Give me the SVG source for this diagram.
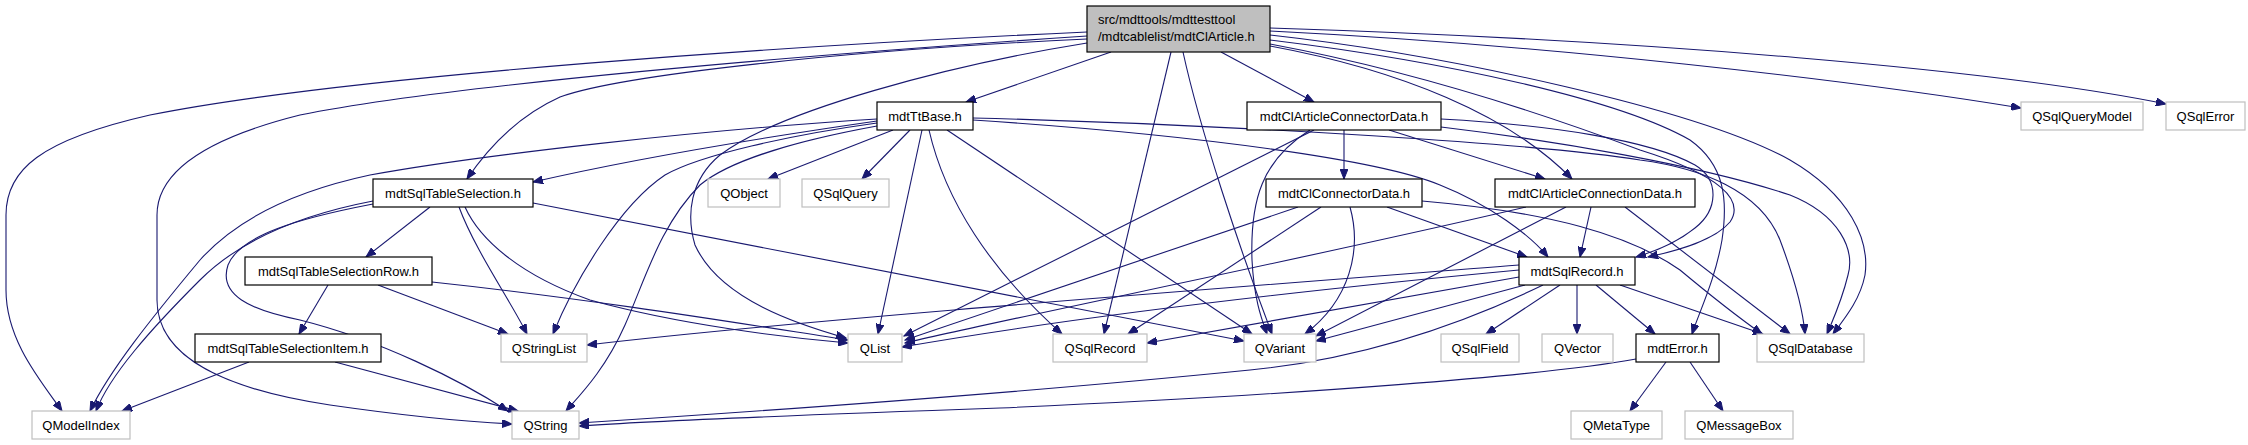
<svg xmlns="http://www.w3.org/2000/svg" width="2248" height="445" viewBox="0 0 2248 445">
<style>
.n rect{fill:#fff;stroke:#000;stroke-width:1.2}
.g rect{fill:#fff;stroke:#bfbfbf;stroke-width:1.2}
.r rect{fill:#bfbfbf;stroke:#000;stroke-width:1.2}
text{font-family:"Liberation Sans",Arial,sans-serif;font-size:13px;fill:#000}
.c{text-anchor:middle}
#edges path{fill:none;stroke:#191970;stroke-width:1.1;marker-end:url(#ah)}
</style>
<defs>
<marker id="ah" markerUnits="userSpaceOnUse" markerWidth="11" markerHeight="8" refX="10" refY="4" orient="auto">
<path d="M0,0 L10,4 L0,8 z" fill="#191970" stroke="#191970" stroke-width="1"/>
</marker>
</defs>
<rect width="2248" height="445" fill="#fff"/>
<g id="edges">
<path d="M1087,32 C800,45 350,75 150,115 C40,140 6,170 6,215 L6,290 C6,340 40,380 62,411"/>
<path d="M1087,36 C800,55 450,85 300,115 C200,140 157,175 157,215 L157,300 C157,360 230,390 330,405 C420,418 470,422 512,424"/>
<path d="M1087,39 C850,50 620,75 560,97 C520,115 490,145 467,179"/>
<path d="M1111,52 L966,102"/>
<path d="M1087,43 C950,65 780,110 720,155 C690,180 686,215 695,245 C720,300 800,325 846,338"/>
<path d="M1171,52 L1104,334"/>
<path d="M1183,52 C1200,130 1240,250 1272,334"/>
<path d="M1221,52 L1314,102"/>
<path d="M1270,46 C1400,70 1510,115 1572,179"/>
<path d="M1270,31 C1550,45 1850,80 2021,108"/>
<path d="M1270,28 C1650,40 2000,70 2166,104"/>
<path d="M1270,35 C1450,55 1700,110 1790,160 C1850,195 1870,240 1865,275 C1860,300 1845,318 1833,334"/>
<path d="M1270,40 C1450,62 1620,100 1690,140 C1725,165 1728,200 1722,240 C1715,280 1700,310 1692,334"/>
<path d="M1270,44 C1420,72 1560,120 1640,150 C1720,175 1745,200 1730,222 C1715,240 1680,250 1648,257"/>
<path d="M893,130 L768,179"/>
<path d="M910,130 L862,179"/>
<path d="M922,130 L878,334"/>
<path d="M929,130 C945,200 990,270 1062,334"/>
<path d="M947,130 L1252,334"/>
<path d="M877,126 C800,140 730,160 700,185 C660,225 645,280 625,325 C605,370 580,395 566,411"/>
<path d="M877,123 C790,135 700,155 665,175 C620,205 575,280 553,334"/>
<path d="M877,119 C700,130 480,155 370,175 C300,190 240,215 200,260 C150,320 110,370 90,411"/>
<path d="M877,121 C780,135 650,155 533,182"/>
<path d="M973,120 C1200,135 1380,160 1440,185 C1490,205 1530,235 1548,257"/>
<path d="M973,118 C1250,125 1550,145 1640,160 C1700,168 1760,190 1780,240 C1795,280 1803,310 1805,334"/>
<path d="M1344,130 L1344,179"/>
<path d="M1389,130 L1545,179"/>
<path d="M1314,130 L904,336"/>
<path d="M1310,130 C1262,160 1250,200 1252,260 C1254,300 1262,320 1267,334"/>
<path d="M1441,119 C1550,125 1650,140 1695,165 C1720,180 1718,210 1695,228 C1680,240 1660,250 1636,257"/>
<path d="M1441,127 C1550,140 1700,165 1790,195 C1840,215 1855,250 1848,275 C1842,300 1835,315 1827,334"/>
<path d="M1387,207 L1527,257"/>
<path d="M1298,207 L905,340"/>
<path d="M1321,207 L1128,334"/>
<path d="M1350,207 C1362,250 1350,300 1305,334"/>
<path d="M1422,201 C1550,212 1630,235 1680,270 C1710,295 1735,315 1762,334"/>
<path d="M1591,207 L1580,257"/>
<path d="M1526,207 C1300,260 1000,320 905,343"/>
<path d="M1566,207 L1316,336"/>
<path d="M1625,207 L1790,334"/>
<path d="M1519,265 C1200,290 800,320 587,345"/>
<path d="M1519,270 C1200,300 1000,330 902,347"/>
<path d="M1519,277 L1147,343"/>
<path d="M1525,285 L1316,341"/>
<path d="M1543,285 C1450,330 1350,360 1250,370 C1000,395 750,412 579,423"/>
<path d="M1560,285 L1486,334"/>
<path d="M1577,285 L1577,334"/>
<path d="M1596,285 L1655,334"/>
<path d="M1620,285 L1763,334"/>
<path d="M1636,359 C1550,375 1300,395 1000,408 C800,415 650,421 579,426"/>
<path d="M1666,362 L1630,411"/>
<path d="M1690,362 L1723,411"/>
<path d="M430,207 L366,257"/>
<path d="M373,201 C300,215 240,240 200,280 C150,330 110,375 96,411"/>
<path d="M373,204 C300,218 240,235 228,265 C218,295 250,310 300,320 C380,340 460,380 508,411"/>
<path d="M459,207 C475,250 510,300 527,334"/>
<path d="M465,207 C480,240 520,275 590,300 C680,325 790,338 848,343"/>
<path d="M533,203 L1244,341"/>
<path d="M328,285 L299,334"/>
<path d="M378,285 L508,334"/>
<path d="M432,282 C600,300 750,325 848,340"/>
<path d="M249,362 L122,411"/>
<path d="M335,362 L518,411"/>
</g>
<g id="root" class="r"><rect x="1087" y="6" width="183" height="46"/><text x="1098" y="24">src/mdttools/mdttesttool</text><text x="1098" y="41">/mdtcablelist/mdtClArticle.h</text></g>
<g id="mdtTtBase" class="n"><rect x="877" y="102" width="96" height="28"/><text class="c" x="925" y="120.5">mdtTtBase.h</text></g>
<g id="mdtClArticleConnectorData" class="n"><rect x="1247" y="102" width="194" height="28"/><text class="c" x="1344" y="120.5">mdtClArticleConnectorData.h</text></g>
<g id="QSqlQueryModel" class="g"><rect x="2021" y="102" width="122" height="28"/><text class="c" x="2082" y="120.5">QSqlQueryModel</text></g>
<g id="QSqlError" class="g"><rect x="2166" y="102" width="79" height="28"/><text class="c" x="2205.5" y="120.5">QSqlError</text></g>
<g id="mdtSqlTableSelection" class="n"><rect x="373" y="179" width="160" height="28"/><text class="c" x="453" y="197.5">mdtSqlTableSelection.h</text></g>
<g id="QObject" class="g"><rect x="708" y="179" width="72" height="28"/><text class="c" x="744" y="197.5">QObject</text></g>
<g id="QSqlQuery" class="g"><rect x="802" y="179" width="87" height="28"/><text class="c" x="845.5" y="197.5">QSqlQuery</text></g>
<g id="mdtClConnectorData" class="n"><rect x="1266" y="179" width="156" height="28"/><text class="c" x="1344" y="197.5">mdtClConnectorData.h</text></g>
<g id="mdtClArticleConnectionData" class="n"><rect x="1495" y="179" width="200" height="28"/><text class="c" x="1595" y="197.5">mdtClArticleConnectionData.h</text></g>
<g id="mdtSqlTableSelectionRow" class="n"><rect x="245" y="257" width="187" height="28"/><text class="c" x="338.5" y="275.5">mdtSqlTableSelectionRow.h</text></g>
<g id="mdtSqlRecord" class="n"><rect x="1519" y="257" width="116" height="28"/><text class="c" x="1577" y="275.5">mdtSqlRecord.h</text></g>
<g id="mdtSqlTableSelectionItem" class="n"><rect x="195" y="334" width="186" height="28"/><text class="c" x="288" y="352.5">mdtSqlTableSelectionItem.h</text></g>
<g id="QStringList" class="g"><rect x="501" y="334" width="86" height="28"/><text class="c" x="544" y="352.5">QStringList</text></g>
<g id="QList" class="g"><rect x="848" y="334" width="54" height="28"/><text class="c" x="875" y="352.5">QList</text></g>
<g id="QSqlRecord" class="g"><rect x="1053" y="334" width="94" height="28"/><text class="c" x="1100" y="352.5">QSqlRecord</text></g>
<g id="QVariant" class="g"><rect x="1244" y="334" width="72" height="28"/><text class="c" x="1280" y="352.5">QVariant</text></g>
<g id="QSqlField" class="g"><rect x="1441" y="334" width="78" height="28"/><text class="c" x="1480" y="352.5">QSqlField</text></g>
<g id="QVector" class="g"><rect x="1542" y="334" width="71" height="28"/><text class="c" x="1577.5" y="352.5">QVector</text></g>
<g id="mdtError" class="n"><rect x="1636" y="334" width="83" height="28"/><text class="c" x="1677.5" y="352.5">mdtError.h</text></g>
<g id="QSqlDatabase" class="g"><rect x="1757" y="334" width="107" height="28"/><text class="c" x="1810.5" y="352.5">QSqlDatabase</text></g>
<g id="QModelIndex" class="g"><rect x="32" y="411" width="98" height="28"/><text class="c" x="81" y="429.5">QModelIndex</text></g>
<g id="QString" class="g"><rect x="512" y="411" width="67" height="28"/><text class="c" x="545.5" y="429.5">QString</text></g>
<g id="QMetaType" class="g"><rect x="1571" y="411" width="91" height="28"/><text class="c" x="1616.5" y="429.5">QMetaType</text></g>
<g id="QMessageBox" class="g"><rect x="1685" y="411" width="108" height="28"/><text class="c" x="1739" y="429.5">QMessageBox</text></g>
</svg>
